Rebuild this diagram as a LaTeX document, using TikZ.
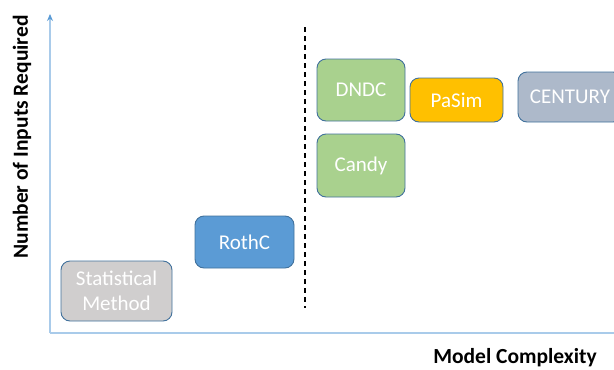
\documentclass[tikz,border=0pt]{standalone}
\usepackage{fontspec}
\setmainfont{Carlito}
\usetikzlibrary{arrows.meta}
\definecolor{axisblue}{HTML}{A9CBEA}
\definecolor{tipblue}{HTML}{5B9BD5}
\definecolor{edge}{HTML}{41719C}
\definecolor{statgray}{HTML}{D0CECE}
\definecolor{rothblue}{HTML}{5B9BD5}
\definecolor{leafgreen}{HTML}{A9D18E}
\definecolor{amber}{HTML}{FFC000}
\definecolor{slate}{HTML}{ADB9CA}
\tikzset{
  model/.style={draw=edge, line width=0.9pt, rounded corners=9pt, text=white,
    align=center, inner sep=0pt, font=\fontsize{21}{25}\selectfont},
  axislabel/.style={font=\bfseries\fontsize{21.5}{25}\selectfont, text=black},
  axisline/.style={draw=axisblue, line width=1.6pt}
}
\begin{document}
\begin{tikzpicture}[x=1pt,y=-1pt]
\useasboundingbox (0,0) rectangle (614,370);
\clip (0,0) rectangle (614,370);
% axes
\coordinate (origin) at (50,333);
\coordinate (ytop) at (50,14);
\coordinate (xend) at (616,333);
\draw[axisline] (origin) -- (xend);
\draw[axisline, -{Stealth[length=7pt,width=6pt,color=tipblue]}] (origin) -- (ytop);
\node[axislabel, rotate=90] (ylab) at (22,137) {Number of Inputs Required};
\node[axislabel] (xlab) at (515,358) {Model Complexity};
% dividing line
\coordinate (dtop) at (305,27);
\coordinate (dbot) at (305,308);
\draw[black, line width=1.3pt, dash pattern=on 5pt off 4pt] (dtop) -- (dbot);
% models
\node[model, fill=statgray, minimum width=111pt, minimum height=60pt] (stat) at (116.5,291) {Statistical\\Method};
\node[model, fill=rothblue, minimum width=99pt, minimum height=52pt] (rothc) at (244.5,242) {RothC};
\node[model, fill=leafgreen, minimum width=88pt, minimum height=62pt] (dndc) at (361,90) {DNDC};
\node[model, fill=leafgreen, minimum width=88pt, minimum height=63pt] (candy) at (361,165.5) {Candy};
\node[model, fill=amber, minimum width=93pt, minimum height=44pt] (pasim) at (456.5,100) {PaSim};
\node[model, fill=slate, minimum width=104pt, minimum height=50pt] (century) at (570,97) {CENTURY};
\end{tikzpicture}
\end{document}
